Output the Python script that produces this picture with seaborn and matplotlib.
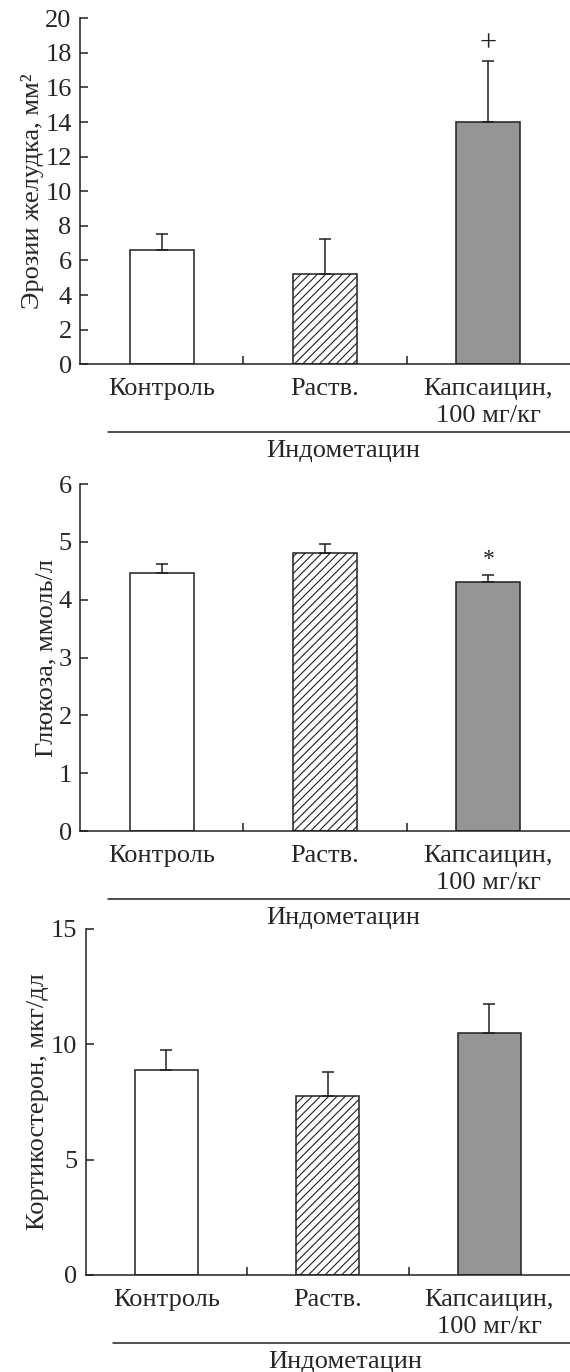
"""
Три панели: эрозии желудка, глюкоза, кортикостерон
на фоне индометацина (контроль / растворитель / капсаицин).
"""

import numpy as np
import pandas as pd
import matplotlib
matplotlib.use("Agg")
import matplotlib.pyplot as plt
import seaborn as sns

GROUPS = ["Контроль", "Раств.", "Капсаицин,\n100 мг/кг"]
GROUP_TITLE = "Индометацин"

EROSION_MEAN = [6.6, 5.2, 14.0]
EROSION_SEM = [0.95, 2.05, 3.5]

GLUCOSE_MEAN = [4.46, 4.80, 4.31]
GLUCOSE_SEM = [0.15, 0.16, 0.12]

CORT_MEAN = [8.88, 7.74, 10.5]
CORT_SEM = [0.88, 1.05, 1.25]

MARKS = ["", "", "+"], ["", "", "*"], ["", "", ""]

FACE = ["white", "white", "#939598"]
HATCH = [None, "////", None]
EDGE = "#231f20"

sns.set_style("ticks")
plt.rcParams["font.family"] = ["Liberation Serif", "DejaVu Serif"]
plt.rcParams["hatch.linewidth"] = 0.8
plt.rcParams["hatch.color"] = EDGE


# ─────────────────────────────────────────────
# ОДНА ПАНЕЛЬ
# ─────────────────────────────────────────────
def draw_panel(ax, means, sems, ylabel, ymax, yticks, marks, fs=19):
    df = pd.DataFrame({"group": GROUPS, "value": means})
    sns.barplot(data=df, x="group", y="value", hue="group", palette=FACE,
                legend=False, width=0.39, edgecolor=EDGE, linewidth=1.1,
                errorbar=None, ax=ax)

    for i, p in enumerate(ax.patches):
        if HATCH[i]:
            p.set_hatch(HATCH[i])
        xc = p.get_x() + p.get_width() / 2
        ax.errorbar(xc, means[i], yerr=[[0], [sems[i]]], fmt="none",
                    ecolor=EDGE, elinewidth=1.1, capsize=4, capthick=1.1)
        if marks[i] == "+":
            ax.text(xc, means[i] + sems[i] + ymax * 0.05, marks[i],
                    ha="center", va="center", fontsize=22, color=EDGE)
        elif marks[i]:
            ax.text(xc, means[i] + sems[i] + ymax * 0.045, marks[i],
                    ha="center", va="center", fontsize=17, color=EDGE)

    ax.set_xlim(-0.5, 2.5)
    ax.set_ylim(0, ymax)
    ax.set_yticks(yticks)
    ax.set_xlabel("")
    ax.set_ylabel(ylabel, fontsize=fs, labelpad=1)

    ax.set_xticks([0.5, 1.5], minor=True)
    ax.tick_params(axis="x", which="major", length=0, pad=10, labelsize=fs)
    ax.tick_params(axis="x", which="minor", direction="in", length=6, width=1.1,
                   color=EDGE)
    ax.tick_params(axis="y", direction="in", length=6, width=1.1, pad=6,
                   labelsize=fs, color=EDGE)
    for lbl in ax.get_xticklabels():
        lbl.set_multialignment("center")
        lbl.set_linespacing(1.3)

    sns.despine(ax=ax)
    for s in ("left", "bottom"):
        ax.spines[s].set_linewidth(1.1)
        ax.spines[s].set_color(EDGE)

    # черта «Индометацин» под подписями
    ax.plot([-0.33, 2.6], [-0.196, -0.196], color=EDGE, lw=1.1,
            transform=ax.get_xaxis_transform(), clip_on=False)
    ax.text(1.11, -0.25, GROUP_TITLE, transform=ax.get_xaxis_transform(),
            ha="center", va="center", fontsize=fs)


# ─────────────────────────────────────────────
# MAIN
# ─────────────────────────────────────────────
if __name__ == "__main__":
    fig = plt.figure(figsize=(5.7, 13.72), dpi=100)
    ax1 = fig.add_axes([0.1404, 0.7345, 0.8596, 0.2522])
    ax2 = fig.add_axes([0.1404, 0.3943, 0.8596, 0.2529])
    ax3 = fig.add_axes([0.150, 0.0707, 0.850, 0.2522])

    draw_panel(ax1, EROSION_MEAN, EROSION_SEM, "Эрозии желудка, мм²",
               20, np.arange(0, 21, 2), MARKS[0])
    draw_panel(ax2, GLUCOSE_MEAN, GLUCOSE_SEM, "Глюкоза, ммоль/л",
               6, np.arange(0, 7, 1), MARKS[1])
    draw_panel(ax3, CORT_MEAN, CORT_SEM, "Кортикостерон, мкг/дл",
               15, [0, 5, 10, 15], MARKS[2])

    fig.savefig("out.png", dpi=100)
